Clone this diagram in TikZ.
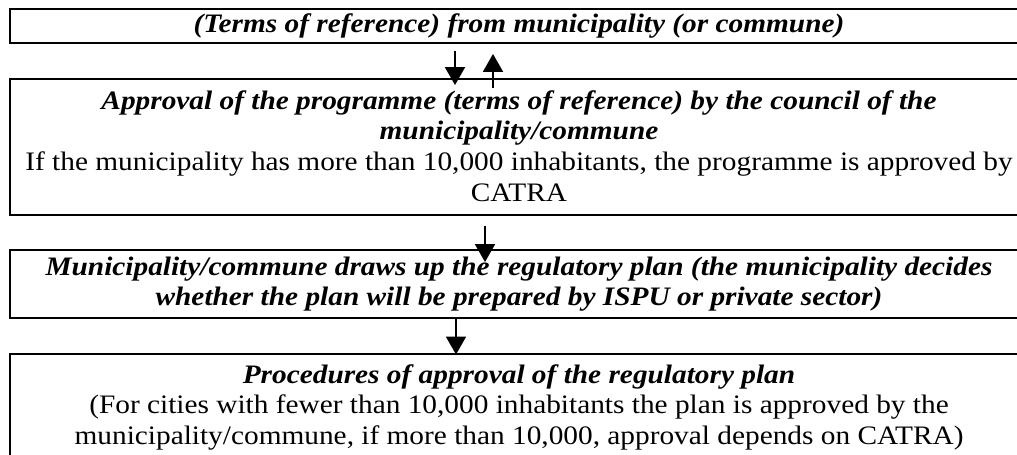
\documentclass[tikz,border=0pt]{standalone}
\usepackage{fontspec}
\setmainfont{Liberation Serif}[FakeStretch=1.1]
\usetikzlibrary{positioning}
\usetikzlibrary{arrows.meta}

\tikzset{
  stagebox/.style={draw,line width=0.9pt,outer sep=0pt,minimum width=458.1pt,inner xsep=0pt,inner ysep=1pt,
    align=center,font=\fontsize{12}{13.8}\selectfont},
  flow/.style={line width=0.6pt,-{Triangle[width=9pt,length=8pt]}}
}
\newcommand{\bi}[1]{\textbf{\textit{#1}}}

\begin{document}
\begin{tikzpicture}
\useasboundingbox (0,0) rectangle (457.65pt,-204.3pt);
\clip (0,0) rectangle (457.65pt,-204.3pt);
  \node[stagebox,minimum height=15.3pt,anchor=north west] (terms) at (4.5pt,-4.05pt)
    {\bi{(Terms of reference) from municipality (or commune)}};
  \node[stagebox,minimum height=61.2pt,text depth=1pt,below=16.2pt of terms] (approval)
    {\bi{Approval of the programme (terms of reference) by the council of the}\\
     \bi{municipality/commune}\\
     If the municipality has more than 10,000 inhabitants, the programme is approved by\\
     CATRA};
  \node[stagebox,minimum height=30.6pt,below=15.75pt of approval] (plan)
    {\bi{Municipality/commune draws up the regulatory plan (the municipality decides}\\
     \bi{whether the plan will be prepared by ISPU or private sector)}};
  \node[stagebox,minimum height=48.6pt,inner ysep=4.5pt,text depth=15pt,below=16.4pt of plan] (procedures)
    {\bi{Procedures of approval of the regulatory plan}\\
     (For cities with fewer than 10,000 inhabitants the plan is approved by the\\
     municipality/commune, if more than 10,000, approval depends on CATRA)};
  % arrows between the stages
  \draw[flow] ([xshift=-28.8pt,yshift=-3.6pt]terms.south) -- ([xshift=-28.8pt,yshift=-2.7pt]approval.north);
  \draw[flow] ([xshift=-11.7pt,yshift=-4.05pt]approval.north) -- ([xshift=-11.7pt,yshift=-4.95pt]terms.south);
  \draw[flow] ([xshift=-15.3pt,yshift=-4.95pt]approval.south) -- ([xshift=-15.3pt,yshift=-5.4pt]plan.north);
  \draw[flow] ([xshift=-28.35pt]plan.south) -- ([xshift=-28.35pt]procedures.north);
\end{tikzpicture}
\end{document}
